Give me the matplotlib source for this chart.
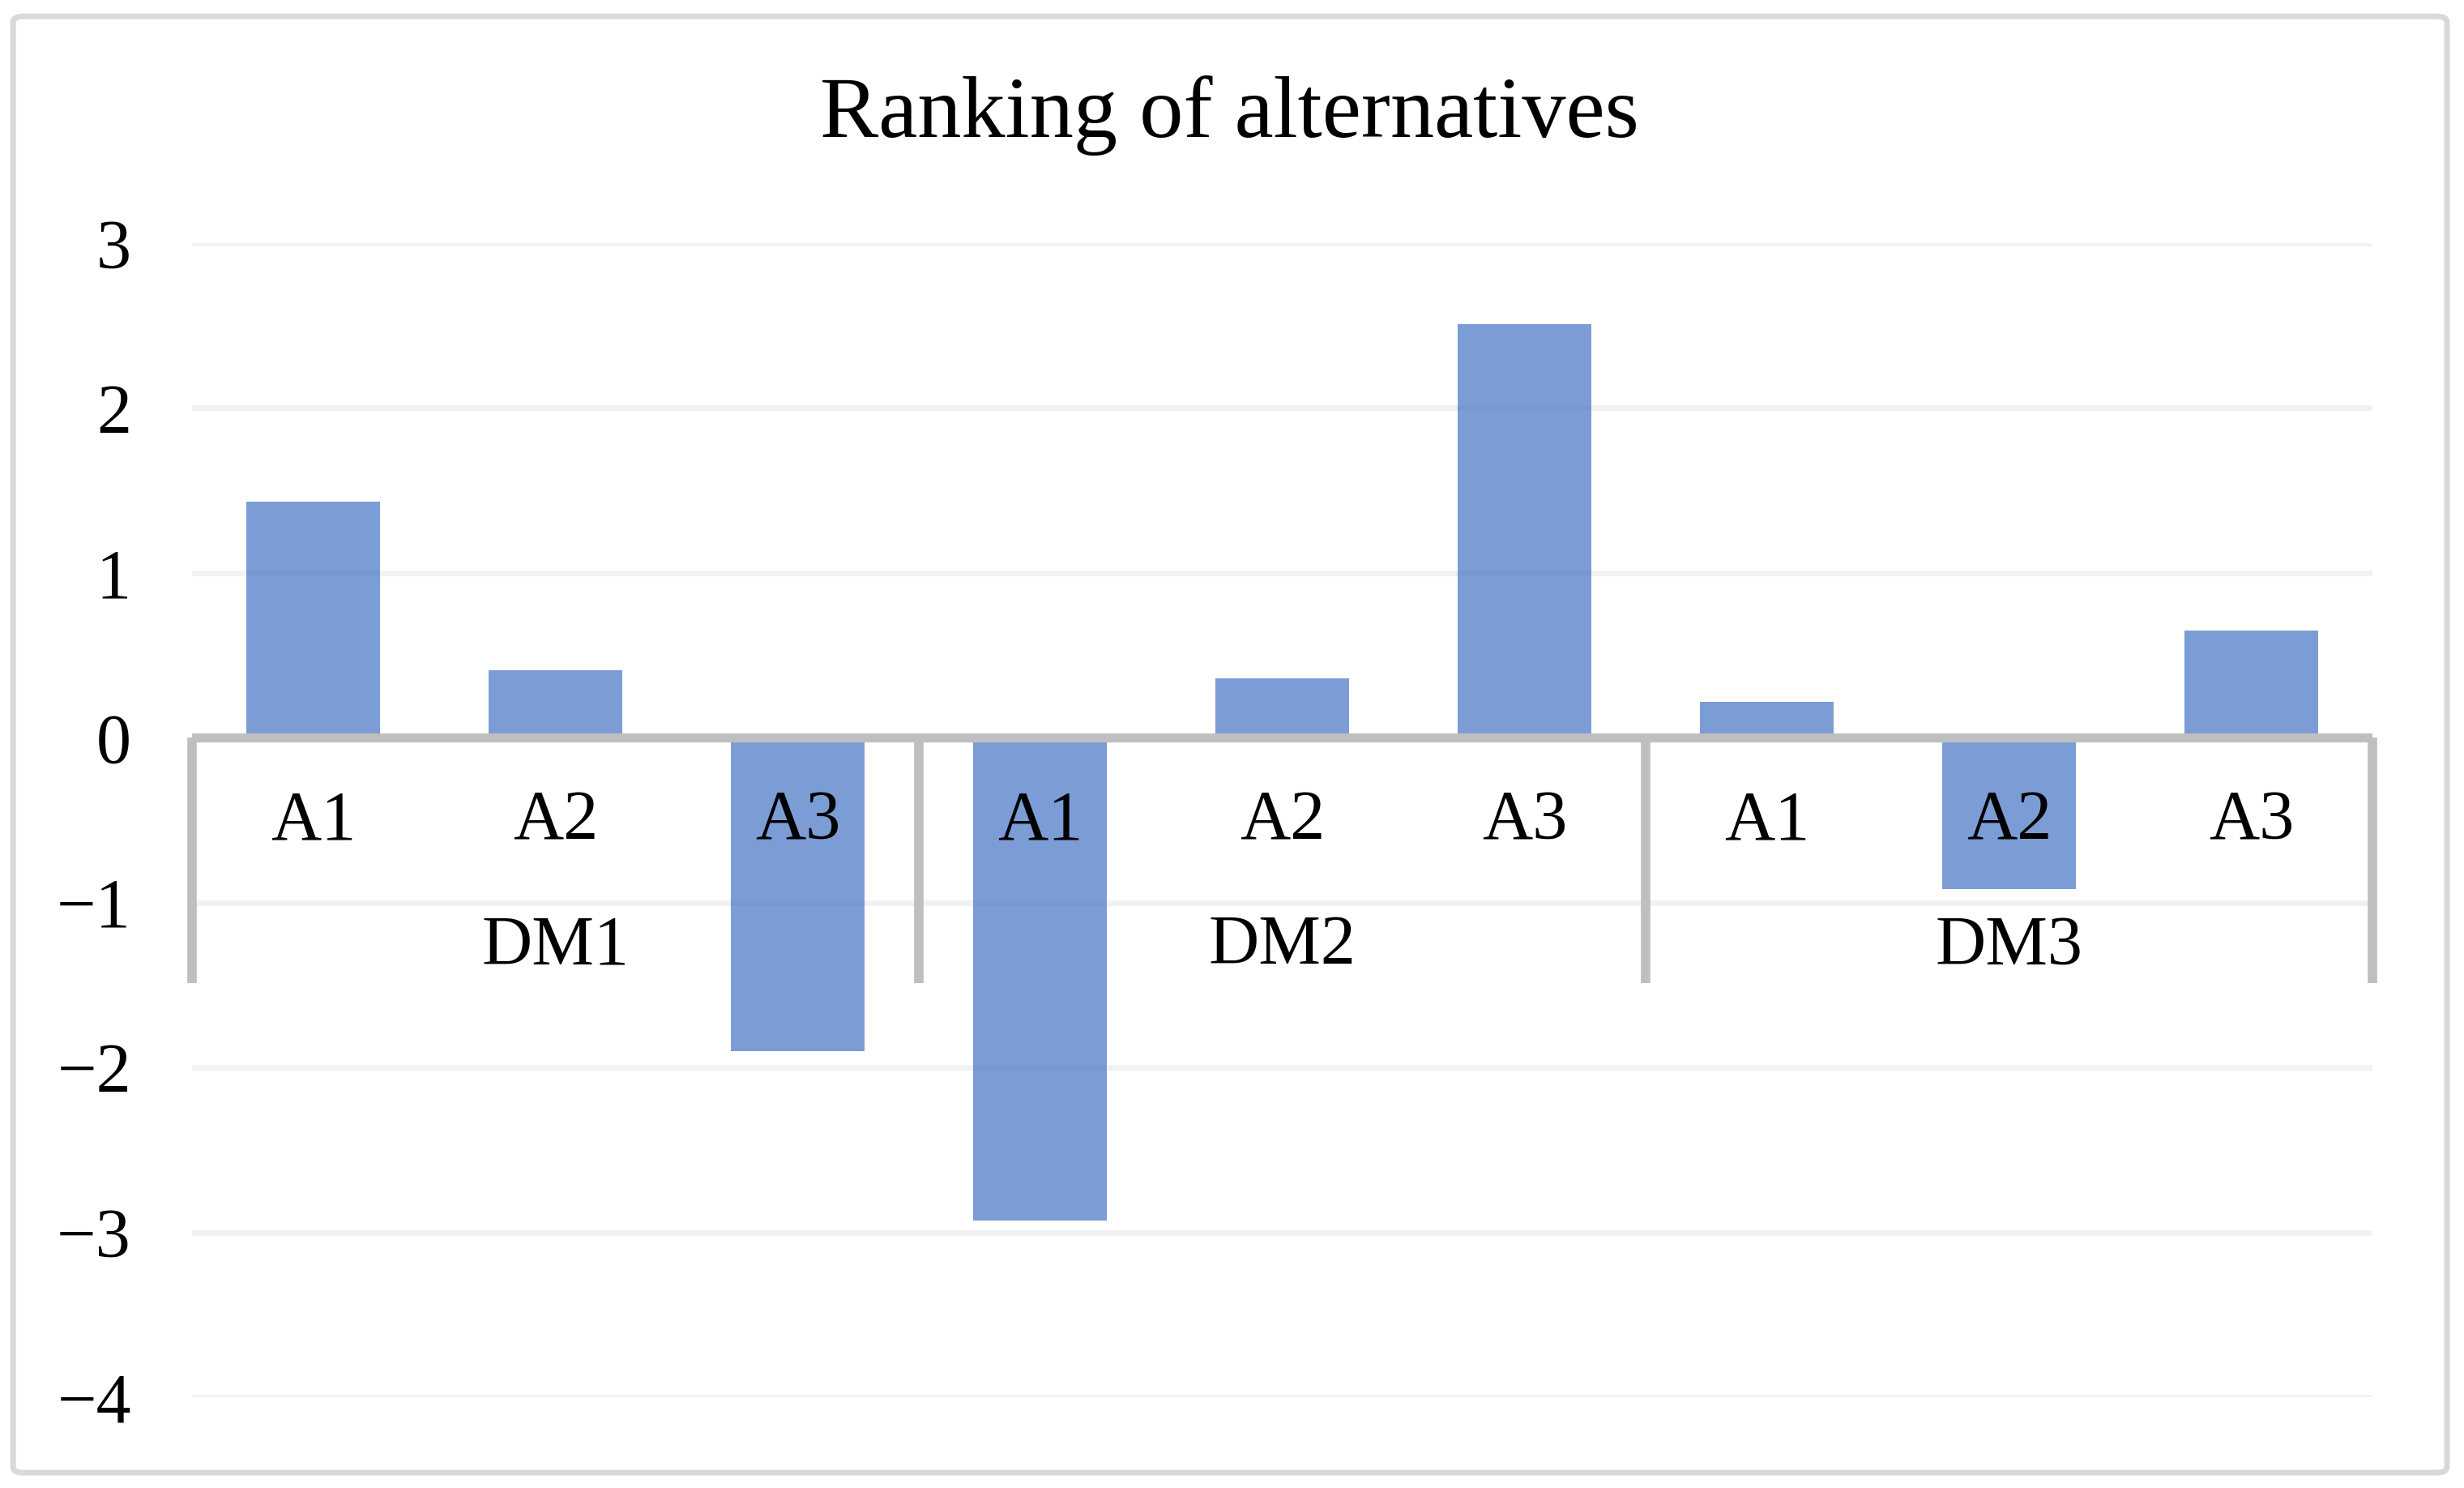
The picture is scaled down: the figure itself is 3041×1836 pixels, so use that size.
import matplotlib
matplotlib.use('Agg')
import matplotlib.pyplot as plt
from matplotlib.patches import FancyBboxPatch

# Ranking of alternatives for each decision maker
groups = ['DM1', 'DM2', 'DM3']
alternatives = ['A1', 'A2', 'A3']
dm1 = [1.43, 0.41, -1.90]
dm2 = [-2.93, 0.36, 2.51]
dm3 = [0.22, -0.92, 0.65]
yticks = [-4, -3, -2, -1, 0, 1, 2, 3]

plt.rcParams['font.family'] = ['Liberation Serif', 'DejaVu Serif']

values = dm1 + dm2 + dm3
labels = alternatives * len(groups)
x = list(range(len(values)))

fig = plt.figure(figsize=(15.205, 9.18), dpi=200)
ax = fig.add_axes([0.0779, 0.0610, 0.8850, 0.7756])

# gridlines
for t in yticks:
    if t != 0:
        ax.axhline(t, color='#F2F2F2', lw=2.5, zorder=0)

ax.bar(x, values, width=0.55, color='#4472C4', alpha=0.7, zorder=1)

# category axis at zero
ax.axhline(0, color='#BFBFBF', lw=4.0, zorder=3)
n = len(alternatives)
for k in range(len(groups) + 1):
    ax.vlines(k * n - 0.5, -1.49, 0, color='#BFBFBF', lw=4.2, zorder=3, clip_on=False)

for xi, lab in zip(x, labels):
    ax.text(xi, -0.515, lab, ha='center', va='center', fontsize=31, zorder=4)
for k, g in enumerate(groups):
    ax.text(k * n + (n - 1) / 2, -1.27, g, ha='center', va='center', fontsize=31, zorder=4)

ax.set_xlim(-0.5, len(values) - 0.5)
ax.set_ylim(-4, 3)
ax.set_xticks([])
ax.set_yticks(yticks)
ax.set_yticklabels([str(t).replace('-', '\u2212') for t in yticks], fontsize=31)
ax.tick_params(axis='y', length=0, pad=27)
for s in ax.spines.values():
    s.set_visible(False)

fig.text(0.499, 0.9225, 'Ranking of alternatives', ha='center', va='center', fontsize=39)

border = FancyBboxPatch((0.0053, 0.0103), 0.9878, 0.9787, boxstyle='round,pad=0,rounding_size=0.004',
                        transform=fig.transFigure, fill=False, edgecolor='#D9D9D9', lw=2.5)
fig.patches.append(border)

fig.savefig('out.png', dpi=200, facecolor='white')
